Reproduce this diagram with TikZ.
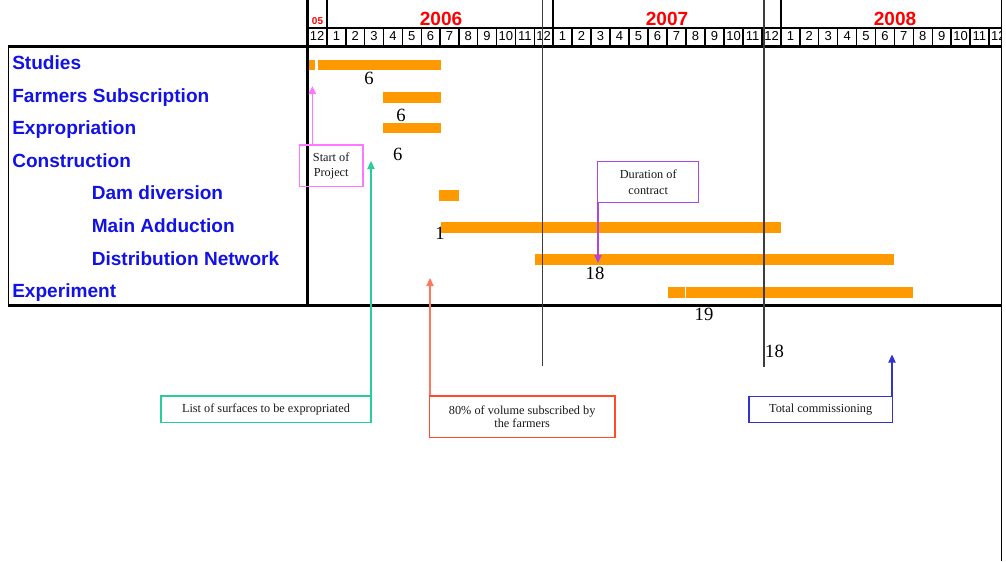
\documentclass[tikz,border=0pt]{standalone}
\usepackage{fontspec}
\setmainfont{Liberation Serif}
\setsansfont{Liberation Sans}
\usetikzlibrary{arrows.meta}
\definecolor{barorange}{RGB}{255,153,0}
\definecolor{labblue}{RGB}{18,18,230}
\definecolor{yearred}{RGB}{255,0,0}
\definecolor{linegray}{RGB}{60,60,60}
\definecolor{pinkc}{RGB}{255,120,255}
\definecolor{greenc}{RGB}{40,205,155}
\definecolor{redc}{RGB}{255,75,40}
\definecolor{bluec}{RGB}{50,50,205}
\definecolor{purplec}{RGB}{175,70,225}
\begin{document}
\begin{tikzpicture}[x=0.75pt,y=-0.75pt,
  lab/.style={anchor=base west, inner sep=0, text=labblue, font=\sffamily\bfseries\fontsize{14.3}{16}\selectfont},
  num/.style={anchor=base, inner sep=0, font=\fontsize{14}{15}\selectfont},
  mon/.style={anchor=base, inner sep=0, font=\sffamily\fontsize{9.75}{11}\selectfont},
  yr/.style={anchor=base, inner sep=0, text=yearred, font=\sffamily\bfseries\fontsize{14.3}{16}\selectfont},
  call/.style={line width=1pt, inner sep=0, align=center, text=black!90, font=\fontsize{9.2}{11}\selectfont},
  arr/.style={line width=1.1pt, -{Triangle[length=6pt,width=5.4pt]}},
  bar/.style={fill=barorange},
  thinrule/.style={line width=1pt},
  gridline/.style={line width=0.9pt, linegray}]
\useasboundingbox (0,0) rectangle (1006,561);

% task labels
\node[lab] (studies) at (12,69.3) {Studies};
\node[lab] (farmers) at (12,102) {Farmers Subscription};
\node[lab] (expro) at (12,134.6) {Expropriation};
\node[lab] (constr) at (12,167.2) {Construction};
\node[lab] (dam) at (91.5,199.8) {Dam diversion};
\node[lab] (adduc) at (91.5,232.4) {Main Adduction};
\node[lab] (distr) at (91.5,265) {Distribution Network};
\node[lab] (exper) at (12,297.6) {Experiment};

% number hidden under the bar
\node[num] (n4) at (440,239.3) {1};

% bars
\fill[bar] (307,60) rectangle (315,69.5);
\fill[bar] (318,60) rectangle (441,69.5);
\fill[bar] (383,92.3) rectangle (441,102.7);
\fill[bar] (383,122.7) rectangle (441,133.3);
\fill[bar] (439,190) rectangle (459,200.7);
\fill[bar] (441,222) rectangle (781,232.7);
\fill[bar] (535,254) rectangle (894,264.7);
\fill[bar] (668,286.7) rectangle (685,297.7);
\fill[bar] (686,286.7) rectangle (913,297.7);

% durations
\node[num] (n1) at (369,84) {6};
\node[num] (n2) at (401,121) {6};
\node[num] (n3) at (397.7,160.3) {6};
\node[num] (n5) at (595,279) {18};
\node[num] (n6) at (704,320.7) {19};
\node[num] (n7) at (774.5,357.3) {18};

% header
\begin{scope}
\clip (300,0) rectangle (1001.5,50);
\node[yr, font=\sffamily\bfseries\fontsize{7.5}{9}\selectfont] (y05) at (317.5,24) {05};
\node[yr] (y06) at (441,25) {2006};
\node[yr] (y07) at (667,25) {2007};
\node[yr] (y08) at (895,25) {2008};
\node[mon] (m05-12) at (317,40.7) {12};
\foreach \k in {1,...,12} {
  \node[mon] (m06-\k) at ({327+18.833*(\k-0.5)},40.7) {\k};
  \node[mon] (m07-\k) at ({553+19*(\k-0.5)},40.7) {\k};
  \node[mon] (m08-\k) at ({781+18.9*(\k-0.5)},40.7) {\k};
  \draw[thinrule] ({327+18.833*\k},28) -- ({327+18.833*\k},46);
  \draw[thinrule] ({553+19*\k},28) -- ({553+19*\k},46);
  \draw[thinrule] ({781+18.9*\k},28) -- ({781+18.9*\k},46);
}
\end{scope}
\draw[thinrule] (307,28) -- (1001.5,28);
\draw[line width=1.9pt] (327,0) -- (327,46);
\draw[line width=1.9pt] (553,0) -- (553,46);
\draw[line width=1.9pt] (781,0) -- (781,46);

% frame
\draw[line width=1.9pt] (8,46.3) -- (1001.5,46.3);
\draw[line width=1.7pt] (8,305.6) -- (1001.5,305.6);
\draw[thinrule] (8.5,46.3) -- (8.5,305.6);
\draw[line width=1.8pt] (307.5,0) -- (307.5,305.6);
\draw[thinrule] (1001.5,0) -- (1001.5,561);

% long time markers
\draw[gridline] (542.3,0) -- (542.3,366);
\draw[gridline] (764,0) -- (764,367);

% callouts
\node[call, draw=pinkc, minimum width=47.6pt, minimum height=31.1pt] (start) at (331.2,165.7) {Start of\\Project};
\node[call, draw=purplec, minimum width=75.75pt, minimum height=30.75pt, font=\fontsize{9.2}{11.5}\selectfont] (dur) at (648.2,182.2) {Duration of\\contract};
\node[call, draw=greenc, minimum width=157.5pt, minimum height=19.7pt] (list) at (266,409.2) {List of surfaces to be expropriated};
\node[call, draw=redc, minimum width=139.3pt, minimum height=31pt, font=\fontsize{9.2}{10}\selectfont] (vol) at (522.2,416.7) {80\% of volume subscribed by\\the farmers};
\node[call, draw=bluec, minimum width=107.5pt, minimum height=19.2pt] (total) at (820.7,409.5) {Total commissioning};

\coordinate (tipstart) at (312.3,86);
\coordinate (tiplist) at (371,161);
\coordinate (tipvol) at (430,278);
\coordinate (tiptotal) at (892,354.5);
\coordinate (tipdur) at (598,263);
\draw[arr, pinkc] (tipstart |- start.north) -- (tipstart);
\draw[arr, greenc] (tiplist |- list.north) -- (tiplist);
\draw[arr, redc!75] (tipvol |- vol.north) -- (tipvol);
\draw[arr, bluec] (tiptotal |- total.north) -- (tiptotal);
\draw[arr, purplec] (tipdur |- dur.south) -- (tipdur);
\end{tikzpicture}
\end{document}
